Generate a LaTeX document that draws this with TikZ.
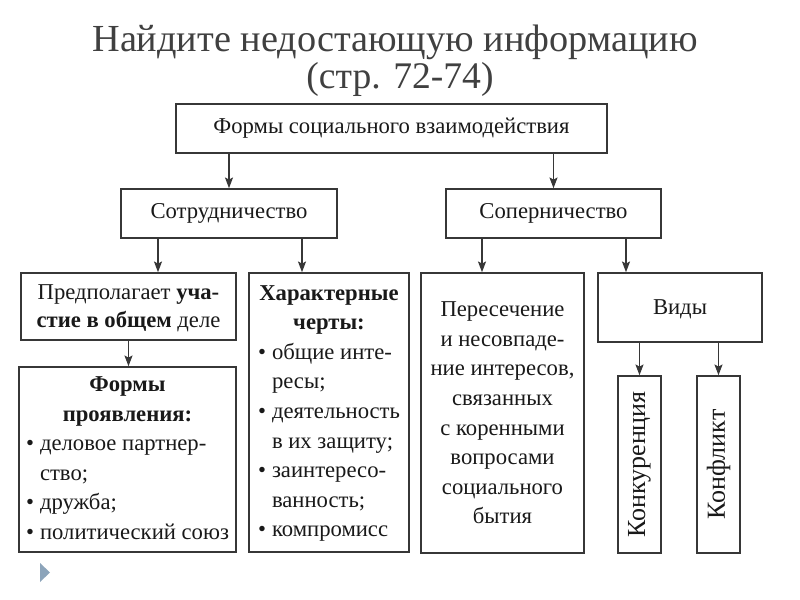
\documentclass[tikz,border=0pt]{standalone}
\usepackage{fontspec}
\setmainfont{Liberation Serif}
\usetikzlibrary{arrows.meta}
\usetikzlibrary{calc}
\definecolor{titlegray}{RGB}{64,64,64}
\definecolor{linegray}{RGB}{55,55,55}
\definecolor{markblue}{RGB}{140,164,186}
\newcommand{\itm}{\makebox[10.5pt][l]{\textbullet}}
\newcommand{\hng}{\hspace*{10.5pt}}
\newcommand{\headrow}[1]{\multicolumn{1}{@{}c@{}}{\bfseries #1}}
\tikzset{frame/.style={draw=linegray,line width=1.2pt,fill=white,inner sep=0pt,text=black!90,font=\fontsize{17}{22.2}\selectfont},
         box/.style={frame,align=center},
         tall box/.style={frame,rotate=90,font=\fontsize{19.5}{22}\selectfont},
         arr edges/.style={every edge/.style={draw=linegray,line width=0.9pt,->}},}

\begin{document}
\begin{tikzpicture}[x=0.75pt, y=-0.75pt, >={Stealth[length=8pt,width=6pt,inset=1.5pt]}]
    \useasboundingbox (0,0) rectangle (800,600);
    \node[text=titlegray, font=\fontsize{28.7}{32}\selectfont] (title) at (395,42) {Найдите недостающую информацию};
    \node[text=titlegray, font=\fontsize{28.2}{32}\selectfont] (pages) at (400,79) {(стр. 72-74)};

    \node[box, minimum width=323.25pt, minimum height=36.75pt] (forms) at (391.5,128.5) {Формы социального взаимодействия};
    \node[box, minimum width=162pt, minimum height=36.75pt] (coop) at (229,213.5) {Сотрудничество};
    \node[box, minimum width=161.25pt, minimum height=36.75pt] (rival) at (553.5,213.5) {Соперничество};
    \node[box, font=\fontsize{17}{21}\selectfont, text depth=0pt, minimum width=161.25pt, minimum height=50.25pt] (share) at (128.5,306.5)
        {Предполагает \textbf{уча-}\\\textbf{стие в общем} деле};
    \node[frame, minimum width=120pt, minimum height=209.25pt] (traits) at (329,412.5)
        {\begin{tabular}{@{}l@{}}\headrow{Характерные}\\\headrow{черты:}\\
         \itm общие инте-\\\hng ресы;\\\itm деятельность\\\hng в их защиту;\\\itm заинтересо-\\\hng ванность;\\\itm компромисс\end{tabular}};
    \node[frame, minimum width=162.75pt, minimum height=138.75pt] (manif) at (127.5,459.5)
        {\begin{tabular}{@{}l@{}}\headrow{Формы}\\\headrow{проявления:}\\
         \itm деловое партнер-\\\hng ство;\\\itm дружба;\\\itm политический союз\end{tabular}};
    \node[box, minimum width=122.25pt, minimum height=210pt] (clash) at (502.5,413)
        {Пересечение\\и несовпаде-\\ние интересов,\\связанных\\с коренными\\вопросами\\социального\\бытия};
    \node[box, text depth=0pt, minimum width=123pt, minimum height=51.75pt] (kinds) at (680,307.5) {Виды};
    \node[tall box, minimum width=132.75pt, minimum height=32.25pt] (compet) at (639.5,464.5) {Конкуренция};
    \node[tall box, minimum width=132.75pt, minimum height=32.25pt] (confl) at (718.5,464.5) {Конфликт};

    \path[arr edges]
    (coop.north |- forms.south) edge (coop.north)
    (rival.north |- forms.south) edge (rival.north)
    ($(coop.south)+(-71,0)$) edge ($(share.north)+(29.5,0)$)
    ($(coop.south)+(73,0)$) edge ($(traits.north)+(-27,0)$)
    (share.south) edge (share.south |- manif.north)
    ($(rival.south)+(-71.5,0)$) edge ($(clash.north)+(-20.5,0)$)
    ($(rival.south)+(72.5,0)$) edge ($(kinds.north)+(-54,0)$)
    (compet.east |- kinds.south) edge (compet.east)
    (confl.east |- kinds.south) edge (confl.east);

    \fill[markblue] (40,563) -- (50,572.5) -- (40,582) -- cycle;
\end{tikzpicture}
\end{document}
